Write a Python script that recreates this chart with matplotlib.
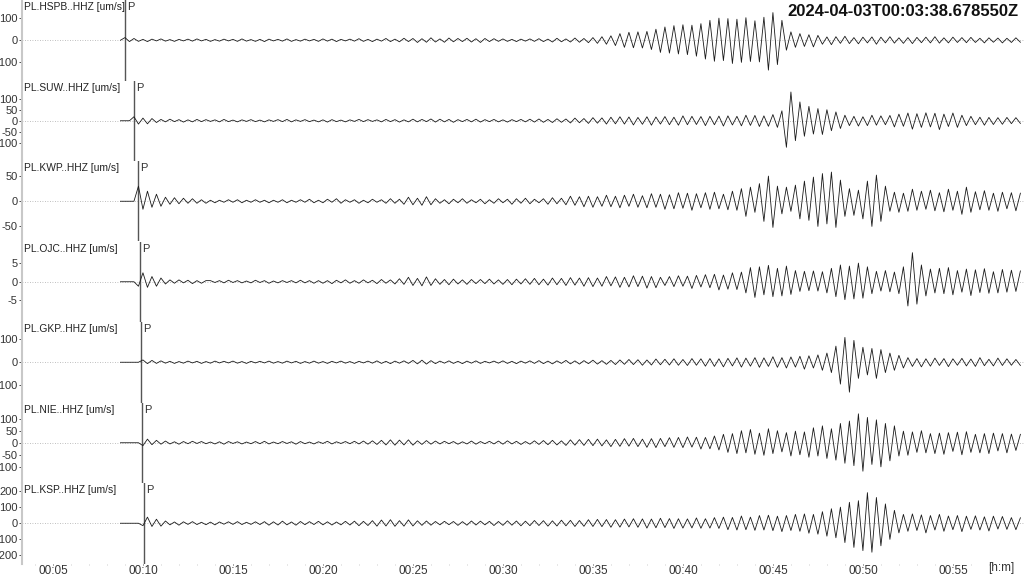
import numpy as np
import matplotlib.pyplot as plt

plt.rcParams['font.family'] = ['Liberation Sans', 'DejaVu Sans']
plt.rcParams['axes.unicode_minus'] = False

# picked extremes of each trace, one every t_step minutes from t_start
t_start = 8.75
t_step = 0.25

stations = ["PL.HSPB..HHZ", "PL.SUW..HHZ", "PL.KWP..HHZ", "PL.OJC..HHZ",
            "PL.GKP..HHZ", "PL.NIE..HHZ", "PL.KSP..HHZ"]
p_times = [9.0, 9.5, 9.72, 9.84, 9.89, 9.95, 10.06]
y_limits = [182, 182, 80, 10.8, 175, 167, 250]
y_ticks = [[-100, 0, 100], [-100, -50, 0, 50, 100], [-50, 0, 50], [-5, 0, 5],
           [-100, 0, 100], [-100, -50, 0, 50, 100], [-200, -100, 0, 100, 200]]
timestamp = "2024-04-03T00:03:38.678550Z"
x_ticks = [5, 10, 15, 20, 25, 30, 35, 40, 45, 50, 55]

hspb = [0, 12, -6, 8, -5,
        4, -6, 5, -3, 6, -4, 3, -5, 4, -3, 5, -4, 6, -3, 4, -5, 3, -4, 5, -3,
        4, -5, 6, -4, 3, -5, 4, -6, 5, -3, 4, -4, 6, -5, 3, -4, 5, -3, 4, -5,
        6, -4, 5, -6, 4, -3, 5, -4, 7, -5, 4, -6, 5, -4, 8, -6, 5, -7, 9, -6,
        8, -10, 7, -9, 11, -8, 6, -9, 10, -7, 8, -6, 9, -8, 7, -10, 8, -6, 7, -5,
        6, -5, 4, -6, 5, -4, 6, -5, 7, -6, 5, -8, 9, -7, 6, -8, 10, -9, 8, -11, 12,
        -14, 16, -18, 20, -24,
        30, -32, 36, -34, 38, -35, 40, -42,
        50, -55, 60, -58, 66, -62, 70, -65, 68, -72, 75,
        -85, 90, -95, 100, -92, 98, -105, 95, -100, 102, -96, 88, -98, 104,
        -135, 125, -110, 90,
        -45, 38, -32, 30, -28, 25, -30, 22,
        -18, 15, -20, 16, -14, 18, -15, 12, -16, 14, -12, 15, -18, 14, -12, 16, -13, 11, -14, 12,
        -15, 13, -11, 14, -12, 16, -13, 11, -12, 14, -10, 12, -11, 13, -10, 9, -12, 11, -9, 10,
        -12, 9, -10, 11, -9]

suw = [0, 0, 0,
       18, -15, 12, -14, 10, -8,
       6, -5, 7, -4, 5, -6, 4, -5, 6, -4, 5, -3, 4, -5, 6, -4, 3, -5, 4, -3,
       5, -4, 3, -5, 4, -3, 5, -4, 6, -5, 4, -3, 5, -4, 3, -5, 4, -6, 5, -4,
       3, -5, 4, -3, 6, -4, 5, -3, 4, -5, 6, -4, 5, -6, 4, -5, 7, -5, 6, -4,
       8, -6, 7, -5, 6, -7, 5, -4, 6, -5, 7, -6, 5, -4, 6, -5, 4, -6, 5, -4,
       6, -5, 7, -6, 8, -7, 6, -8, 9, -7, 8, -10, 12, -9, 10, -12, 14, -11, 13, -15,
       16, -14, 18, -15, 17, -19, 15, -16, 18, -20, 17, -15, 19, -18, 16, -20, 22, -18, 20, -17,
       19, -22, 20, -18, 21, -24, 22, -19, 20, -23, 25, -21, 24, -26, 22, -25, 28, -30,
       45, -120, 130, -90, 85, -70,
       65, -60, 55, -62, 50, -45, 40, -35,
       25, -22, 20, -24, 18, -22, 25, -20, 22, -18, 24, -28, 30, -25, 35,
       -38, 32, -30, 36, -28, 34, -40, 30, -26, 35, -30, 25, -22,
       20, -18, 16, -20, 15, -17, 14, -16, 15, -13, 14, -12]

kwp = [0, 0, 0, 0,
       30, -16, 20, -12, 14, -10,
       8, -6, 7, -5, 6, -4, 5, -4, 3, -4,
       2, -3, 2, -2, 3, -2, 3, -3, 2, -2, 3, -2, 2, -3, 2, -2, 3, -3, 2, -2,
       3, -2, 4, -3, 2, -3, 4, -2, 5, -4, 3, -2, 3, -4, 2, -3, 4, -2, 3, -4,
       5, -4, 4, -6, 8, -7, 6, -8, 9, -7, 5, -4, 3, -5, 4, -3, 5, -4, 3, -3,
       4, -5, 3, -4, 5, -3, 4, -6, 5, -4, 6, -5, 4, -3, 5, -6, 7, -5, 6, -7,
       10, -8, 9, -11, 10, -12, 9, -10, 12, -11, 10, -13, 12, -10, 14, -12, 11, -13, 15, -12,
       14, -16, 13, -15, 17, -14, 16, -18, 15, -13, 17, -16, 18, -15, 14, -17, 20, -18,
       25, -30, 28, -22, 35, -40,
       50, -52, 30, -25, 28, -20, 32, -35, 40, -38,
       48, -50, 55, -45, 58, -52, 42,
       -30, 25, -28, 22, -35, 40, -50, 52, -40, 30,
       -20, 18, -22, 16, -20, 24, -18, 20, -16, 22, -19, 17, -21, 24, -18, 20, -26, 28, -22, 19,
       -17, 21, -18, 16, -20, 18, -15, 17, -19, 16]

ojc = [0, 0, 0, 0,
       -1.2, 2.4, -1.5, 1.4, -1.2, 1.0,
       -0.6, 0.5, -0.4, 0.5, -0.3, 0.4, -0.5, 0.3, -0.4, 0.3,
       0.3, -0.2, 0.3, -0.3, 0.4, -0.2, 0.3, -0.3, 0.2, -0.3, 0.4, -0.2, 0.3, -0.4, 0.2, -0.3, 0.3, -0.2, 0.3, -0.3,
       0.4, -0.3, 0.3, -0.4, 0.3, -0.4, 0.3, -0.5, 0.4, -0.3, 0.5, -0.4, 0.3, -0.4, 0.5, -0.3, 0.4, -0.5, 0.6, -0.4,
       0.5, -0.6, 0.8, -0.7, 1.2, -1.0, 0.9, -1.1, 1.3, -1.0, 0.8, -0.7, 0.6, -0.8, 0.7, -0.6, 0.5, -0.7, 0.6, -0.5,
       0.6, -0.5, 0.7, -0.6, 0.5, -0.7, 0.6, -0.8, 0.7, -0.6, 0.8, -0.7, 0.9, -0.8, 0.7, -0.9, 1.0, -0.8, 0.9, -1.0,
       1.1, -0.9, 1.0, -1.2, 1.1, -1.3, 1.0, -1.2, 1.4, -1.1, 1.3, -1.5, 1.2, -1.4, 1.6, -1.3, 1.5, -1.7, 1.4, -1.6,
       1.2, -1.0, 1.4, -1.3, 1.6, -1.2, 1.5, -1.8, 1.7, -1.4, 1.9, -1.6, 2.0, -2.2, 1.8, -2.0, 2.4, -2.1, 2.6, -3.0,
       3.8, -4.2, 4.0, -3.5, 4.4, -4.0, 3.6, -3.8, 4.2, -3.4, 3.0, -2.6, 2.8, -2.4, 2.9, -2.5, 2.7, -3.0, 3.6, -4.0,
       4.5, -4.8, 4.2, -4.6, 5.0, -4.4, 4.0, -3.2, 2.8, -2.5, 3.0, -2.7, 2.6, -3.2, 4.0, -6.5, 7.8, -6.0, 4.5, -3.8,
       3.4, -3.0, 3.6, -3.2, 3.8, -3.5, 3.0, -2.8, 3.4, -3.7, 3.2, -2.9, 3.5, -3.1, 2.7, -3.0, 3.3, -2.8, 3.1, -2.6, 2.9]

gkp = [0, 0, 0, 0, 0,
       10, -6, 8, -5, 6, -4,
       4, -5, 3, -4, 5, -3, 4, -5, 3, -4, 5, -3, 4, -3, 5, -4, 3, -5, 4, -3,
       4, -3, 5, -4, 3, -4, 5, -3, 4, -5, 3, -4, 5, -4, 3, -5, 4, -3, 5, -4,
       3, -5, 4, -3, 5, -4, 6, -5, 4, -6, 5, -4, 6, -5, 8, -7, 9, -8, 7, -6,
       5, -4, 6, -5, 4, -6, 5, -4, 6, -5, 4, -3, 5, -4, 6, -5, 4, -6, 5, -4,
       6, -5, 7, -6, 5, -7, 6, -5, 8, -7, 6, -8, 7, -6, 9, -8, 7, -9, 8, -10,
       10, -9, 12, -10, 11, -13, 10, -12, 14, -11, 13, -12, 15, -13, 12, -14, 16, -13, 15, -17,
       16, -18, 15, -20, 17, -16, 19, -21, 18, -17, 20, -22, 19, -18, 24, -22, 20, -25, 23, -21,
       26, -30, 28, -25, 32, -35, 40, -45,
       70, -95, 108, -130, 95, -70, 65, -55,
       60, -70, 55, -45, 40, -35, 30, -25,
       20, -18, 16, -20, 15, -17, 18, -14, 16, -19, 15, -13, 17, -16, 14, -18, 20, -15, 13, -16,
       18, -14, 15, -13, 12, -14]

nie = [0, 0, 0, 0, 0,
       -12, 15, -8, 10, -6, 7,
       -5, 4, -6, 5, -4, 6, -3, 5, -4, 3, -5, 4, -6, 5, -3, 4, -5, 3, -4, 5,
       -4, 6, -5, 3, -4, 5, -3, 4, -6, 5, -4, 3, -5, 4, -3, 6, -5, 4, -3, 5,
       -4, 6, -5, 7, -6, 8, -7, 10, -9, 12, -10, 11, -9, 12, -10, 8, -7, 9, -6, 7,
       -5, 6, -4, 5, -6, 4, -5, 7, -6, 5, -4, 6, -5, 7, -6, 8, -5, 6, -7, 5,
       -6, 8, -7, 9, -8, 10, -9, 8, -11, 12, -10, 13, -11, 14, -12, 15, -13, 12, -16, 14,
       -15, 17, -14, 18, -16, 15, -19, 17, -20, 18, -16, 21, -19, 22, -20, 24, -18, 23, -26, 22,
       -25, 28, -30, 35, -40, 38, -45, 50, -42, 55, -48, 40, -52, 58, -45, 50, -38, 42, -55, 48,
       -50, 45, -60, 62, -55, 70, -65, 58, -72, 80, -85, 90, -95,
       120, -118, 105, -90, 95, -100, 80, -75, 70,
       -55, 48, -52, 45, -40, 50, -42, 38, -45, 40, -48, 42, -36, 44, -50, 46, -40, 35, -42, 38,
       -45, 40, -34, 38, -42, 36, -32, 35]

ksp = [0, 0, 0, 0, 0,
       -15, 38, -20, 25, -18, 14,
       -10, 8, -12, 9, -7, 10, -8, 6, -9, 7, -10, 8, -6, 9, -7, 10, -8, 6, -7, 9,
       -8, 10, -12, 9, -11, 13, -10, 8, -12, 11, -9, 10, -8, 12, -10, 9, -11, 8, -10, 12,
       -11, 13, -15, 12, -14, 16, -18, 20, -17, 22, -19, 16, -18, 21, -17, 15, -13, 14, -12, 11,
       -10, 12, -9, 11, -13, 10, -12, 14, -11, 13, -10, 12, -14, 11, -13, 15, -12, 14, -16, 13,
       -15, 17, -14, 16, -18, 15, -17, 19, -16, 18, -20, 17, -19, 22, -20, 24, -21, 23, -25, 22,
       -24, 26, -23, 28, -25, 27, -30, 26, -28, 31, -27, 29, -32, 28, -30, 27, -29, 33, -31, 28,
       -30, 35, -32, 38, -40, 36, -42, 45, -40, 38, -44, 48, -42, 50, -46, 44, -52, 48, -45, 55,
       -50, 58, -62, 55, -68, 72, -80, 90,
       -90, 100, -120, 130, -150, 140, -170, 190, -180, 160, -140, 120, -100, 80,
       -60, 55, -50, 58, -45, 52, -60, 48, -42, 55, -50, 45, -40, 48, -52, 44, -38, 46, -42, 40,
       -48, 44, -36, 42, -38, 35, -40, 34]

traces = [hspb, suw, kwp, ojc, gkp, nie, ksp]

fig = plt.figure(figsize=(10.24, 5.76), dpi=100)
W, H = 1024, 576
row_h = 80.5
for i, (name, vals) in enumerate(zip(stations, traces)):
    ax = fig.add_axes([22 / W, 1 - row_h * (i + 1) / H, 1 - 22 / W, row_h / H])
    vals = np.array(vals, dtype=float)
    t = t_start + t_step * np.arange(len(vals))
    ax.axhline(0, color="#aaaaaa", lw=0.6, ls=(0, (1, 2)), zorder=1)
    ax.plot(t, vals, color="#1a1a1a", lw=0.6, zorder=3)
    ax.axvline(p_times[i], color="#555555", lw=1.0, zorder=2)
    ax.text(p_times[i] + 0.1, 0.97, "P", transform=ax.get_xaxis_transform(),
            fontsize=8, va="top", ha="left", color="#333333")
    ax.text(0.002, 0.97, name + " [um/s]", transform=ax.transAxes,
            fontsize=7.4, va="top", ha="left", color="#222222")
    ax.set_xlim(3.28, 58.95)
    ax.set_ylim(-y_limits[i], y_limits[i])
    ax.set_yticks(y_ticks[i])
    ax.tick_params(axis="y", length=2, width=0.6, pad=1, labelsize=8,
                   colors="#333333", direction="out")
    for s in ["top", "right", "bottom"]:
        ax.spines[s].set_visible(False)
    ax.spines["left"].set_color("#c8c8c8")
    ax.spines["left"].set_linewidth(1.5)
    ax.set_xticks(x_ticks)
    if i < len(stations) - 1:
        ax.tick_params(axis="x", length=0, labelbottom=False)
    else:
        ax.set_xticks(np.arange(4, 59, 1), minor=True)
        ax.set_xticklabels(["00:%02d" % m for m in x_ticks])
        ax.tick_params(axis="x", which="major", length=1, width=0.6, pad=0,
                       labelsize=8.5, colors="#333333")
        ax.tick_params(axis="x", which="minor", length=1, width=0.5, colors="#bbbbbb")
    ax.patch.set_alpha(0)

fig.text(1001 / W, 1 - 568 / H, "[h:m]", fontsize=8.5, ha="center", va="center", color="#333333")
fig.text(1018 / W, 1 - 11 / H, timestamp, fontsize=12, fontweight="bold",
         ha="right", va="center", color="#111111")

fig.savefig("out.png", dpi=100)
